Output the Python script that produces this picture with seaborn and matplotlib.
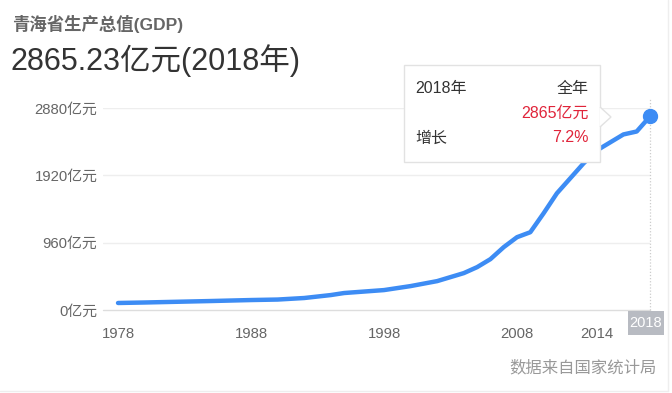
import pandas as pd
import matplotlib.pyplot as plt
import seaborn as sns
from matplotlib.patches import FancyBboxPatch, Polygon, Rectangle

# ============================================
# DATA
# ============================================

years = [1978, 1980, 1985, 1988, 1990, 1992, 1994, 1995, 1996, 1998,
         2000, 2002, 2003, 2004, 2005, 2006, 2007, 2008, 2009, 2010,
         2011, 2012, 2013, 2014, 2015, 2016, 2017, 2018]
gdp = [100, 107, 128, 142, 149, 171, 213, 242, 256, 284,
       341, 412, 469, 526, 611, 725, 896, 1038, 1109, 1379,
       1664, 1877, 2090, 2275, 2389, 2503, 2545, 2760]

y_ticks = [0, 960, 1920, 2880]
y_labels = ["0亿元", "960亿元", "1920亿元", "2880亿元"]
x_ticks = [1978, 1988, 1998, 2008, 2014]

title = "青海省生产总值(GDP)"
headline = "2865.23亿元(2018年)"
tip_year = "2018年"
tip_period = "全年"
tip_value = "2865亿元"
tip_growth_label = "增长"
tip_growth = "7.2%"
source = "数据来自国家统计局"

df = pd.DataFrame({"year": years, "gdp": gdp})

# ============================================
# STYLE
# ============================================

sns.set_style("white")
plt.rcParams["font.family"] = ["Liberation Sans", "Noto Sans CJK SC", "DejaVu Sans"]

line_color = "#3d8cf4"
red = "#e0243a"

fig = plt.figure(figsize=(6.72, 3.93), dpi=100)
W, H = 672, 393


def fx(px):
    return px / W


def fy(py):
    return 1 - py / H


ax = fig.add_axes([fx(103), fy(310), fx(650) - fx(103), fy(108) - fy(310)])

sns.lineplot(data=df, x="year", y="gdp", ax=ax, color=line_color,
             linewidth=3.2, solid_capstyle="round", solid_joinstyle="round")
ax.plot([years[-1]], [gdp[-1]], "o", color=line_color, markersize=10,
        clip_on=False, zorder=5)

ax.set_xlim(1976.87, 2018)
ax.set_ylim(0, 2880)
ax.set_xlabel("")
ax.set_ylabel("")

for s in ax.spines.values():
    s.set_visible(False)

for v in y_ticks[1:]:
    ax.axhline(v, color="#eeeeee", linewidth=1, zorder=0)
ax.axhline(0, color="#dddddd", linewidth=1, zorder=0, clip_on=False)

ax.axvline(2018, ymin=0, ymax=1.05, color="#cccccc", linewidth=0.9,
           linestyle=(0, (1, 1.5)), zorder=1, clip_on=False)

ax.set_yticks(y_ticks)
ax.set_yticklabels(y_labels)
ax.set_xticks(x_ticks)
ax.set_xticklabels([str(t) for t in x_ticks])
ax.tick_params(axis="y", length=0, pad=4, labelsize=10.7, labelcolor="#666666")
ax.tick_params(axis="x", length=0, pad=12, labelsize=10.7, labelcolor="#666666")

# 2018 label in grey box
fig.patches.append(Rectangle((fx(628), fy(335)), fx(664) - fx(628), fy(311) - fy(335),
                             transform=fig.transFigure, facecolor="#b8bbc2",
                             edgecolor="none"))
fig.text(fx(646), fy(323), "2018", color="white", fontsize=10.5,
         ha="center", va="center")

# ============================================
# TEXTS
# ============================================

fig.text(fx(12), fy(24), title, fontsize=12.5, fontweight="bold",
         color="#666666", ha="left", va="center")
fig.text(fx(11), fy(61), headline, fontsize=22, color="#333333",
         ha="left", va="center")
fig.text(fx(657), fy(368), source, fontsize=11.8, color="#999999",
         ha="right", va="center")

# ============================================
# TOOLTIP
# ============================================

box = FancyBboxPatch((fx(404), fy(162)), fx(600) - fx(404), fy(65) - fy(162),
                     boxstyle="square,pad=0", transform=fig.transFigure,
                     facecolor="white", edgecolor="#e2e2e2", linewidth=1,
                     zorder=10)
fig.patches.append(box)
arrow = Polygon([(fx(600), fy(107)), (fx(611), fy(117)), (fx(600), fy(127))],
                closed=False, transform=fig.transFigure, facecolor="white",
                edgecolor="#e2e2e2", linewidth=1, zorder=10)
fig.patches.append(arrow)

fig.text(fx(415), fy(88), tip_year, fontsize=11.5, color="#333333",
         ha="left", va="center", zorder=11)
fig.text(fx(589), fy(88), tip_period, fontsize=11.5, color="#333333",
         ha="right", va="center", zorder=11)
fig.text(fx(589), fy(113), tip_value, fontsize=11.5, color=red,
         ha="right", va="center", zorder=11)
fig.text(fx(415), fy(138), tip_growth_label, fontsize=11.5, color="#333333",
         ha="left", va="center", zorder=11)
fig.text(fx(589), fy(138), tip_growth, fontsize=11.5, color=red,
         ha="right", va="center", zorder=11)

# card border right / bottom
fig.add_artist(plt.Line2D([fx(668), fx(668)], [fy(0), fy(391)], color="#eeeeee",
                          linewidth=1, transform=fig.transFigure))
fig.add_artist(plt.Line2D([fx(0), fx(668)], [fy(391), fy(391)], color="#eeeeee",
                          linewidth=1, transform=fig.transFigure))

plt.savefig("out.png", dpi=100)
